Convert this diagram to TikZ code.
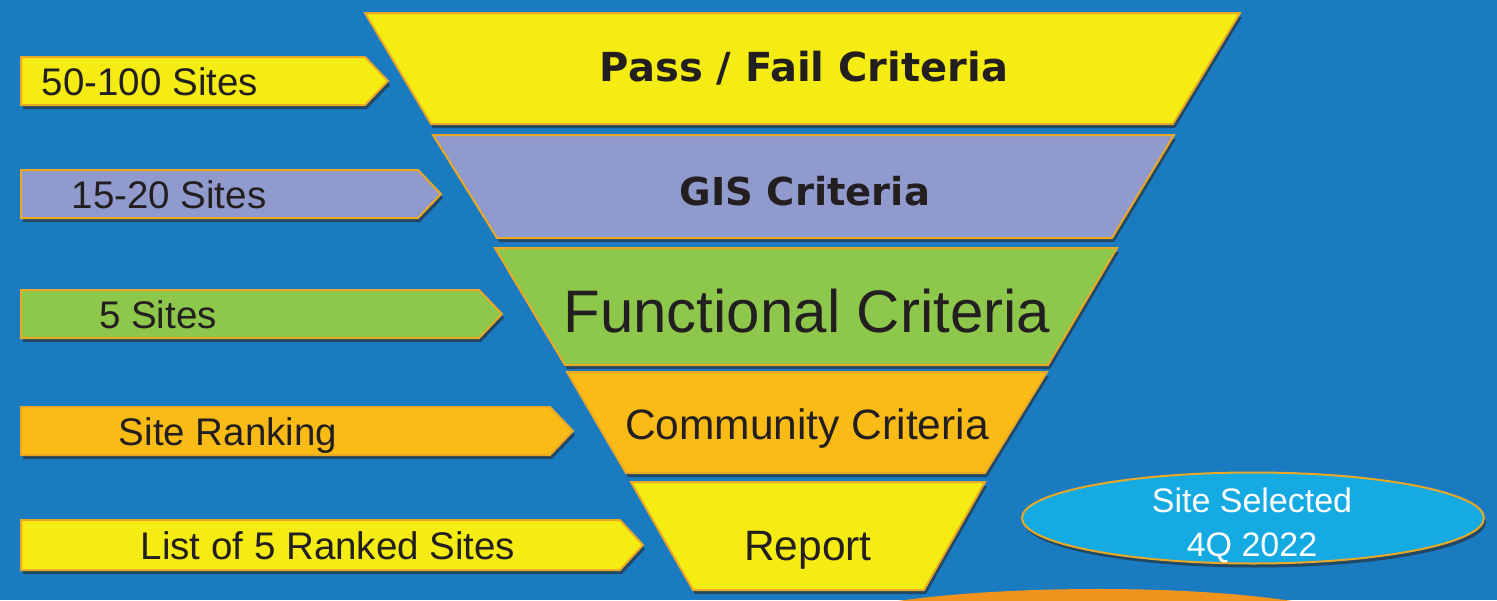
\documentclass[tikz,border=0pt]{standalone}
\usepackage{fontspec}
\setmainfont{Liberation Sans}
\newfontfamily\headfont{DejaVu Sans}
\usetikzlibrary{shadows}
\definecolor{bgblue}{HTML}{1A7BC1}
\definecolor{fyellow}{HTML}{F4EC12}
\definecolor{flav}{HTML}{919ACC}
\definecolor{fgreen}{HTML}{8DC74B}
\definecolor{forange}{HTML}{FBBB16}
\definecolor{fcyan}{HTML}{15AAE1}
\definecolor{gold}{HTML}{E9A927}
\definecolor{ink}{HTML}{231F20}
\definecolor{botorange}{HTML}{F0931F}
\tikzset{
  stagebox/.style={draw=gold, line width=2pt, line join=miter,
    drop shadow={shadow xshift=2pt, shadow yshift=-4pt, opacity=0.6, fill=black!85}},
  lbl/.style={anchor=base, text=ink, inner sep=0pt},
  tagtxt/.style={lbl, font=\fontsize{38.5}{44}\selectfont},
}
\begin{document}
\begin{tikzpicture}[x=1pt,y=-1pt]
\useasboundingbox (0,0) rectangle (1497,600);
\fill[bgblue] (0,0) rectangle (1497,600);
% bottom orange hump
\fill[botorange] (898,601) .. controls (1000,586) and (1180,584) .. (1292,601) -- cycle;

% funnel stages
\path[stagebox, fill=fyellow] (365,13) -- (1240,13) -- (1173,124) -- (431,124) -- cycle;
\path[stagebox, fill=flav] (433,135) -- (1174,135) -- (1112,238) -- (497,238) -- cycle;
\path[stagebox, fill=fgreen] (495,248) -- (1117,248) -- (1048,365) -- (565,365) -- cycle;
\path[stagebox, fill=forange] (567,372) -- (1047,372) -- (985,473) -- (626,473) -- cycle;
\path[stagebox, fill=fyellow] (631,482) -- (985,482) -- (924,590) -- (693,590) -- cycle;

\node[lbl, font=\headfont\bfseries\fontsize{40}{48}\selectfont] (s1) at (804,81) {Pass / Fail Criteria};
\node[lbl, font=\headfont\bfseries\fontsize{38.5}{46}\selectfont] (s2) at (805,205) {GIS Criteria};
\node[lbl, font=\fontsize{60}{70}\selectfont] (s3) at (807,332) {Functional Criteria};
\node[lbl, font=\fontsize{42.5}{50}\selectfont] (s4) at (807,439) {Community Criteria};
\node[lbl, font=\fontsize{42.5}{50}\selectfont] (s5) at (808,560) {Report};

% left tags
\path[stagebox, fill=fyellow] (21,57) -- (365,57) -- (388,81) -- (365,105) -- (21,105) -- cycle;
\path[stagebox, fill=flav] (21,170) -- (418,170) -- (441,194) -- (418,218) -- (21,218) -- cycle;
\path[stagebox, fill=fgreen] (21,290) -- (479,290) -- (502,314) -- (479,338) -- (21,338) -- cycle;
\path[stagebox, fill=forange] (21,407) -- (550,407) -- (573,431) -- (550,455) -- (21,455) -- cycle;
\path[stagebox, fill=fyellow] (21,520) -- (620,520) -- (643,545) -- (620,570) -- (21,570) -- cycle;

\node[tagtxt] (a1) at (150,95) {50-100 Sites};
\node[tagtxt] (a2) at (169,208) {15-20 Sites};
\node[tagtxt] (a3) at (158,328) {5 Sites};
\node[tagtxt] (a4) at (228,445) {Site Ranking};
\node[tagtxt] (a5) at (328,559) {List of 5 Ranked Sites};

% result ellipse
\path[stagebox, fill=fcyan] (1253,518) ellipse [x radius=231, y radius=45.5];
\node[anchor=base, text=white, inner sep=0pt, font=\fontsize{34}{40}\selectfont] (r1) at (1252,512) {Site Selected};
\node[anchor=base, text=white, inner sep=0pt, font=\fontsize{34}{40}\selectfont] (r2) at (1252,556) {4Q 2022};
\end{tikzpicture}
\end{document}
